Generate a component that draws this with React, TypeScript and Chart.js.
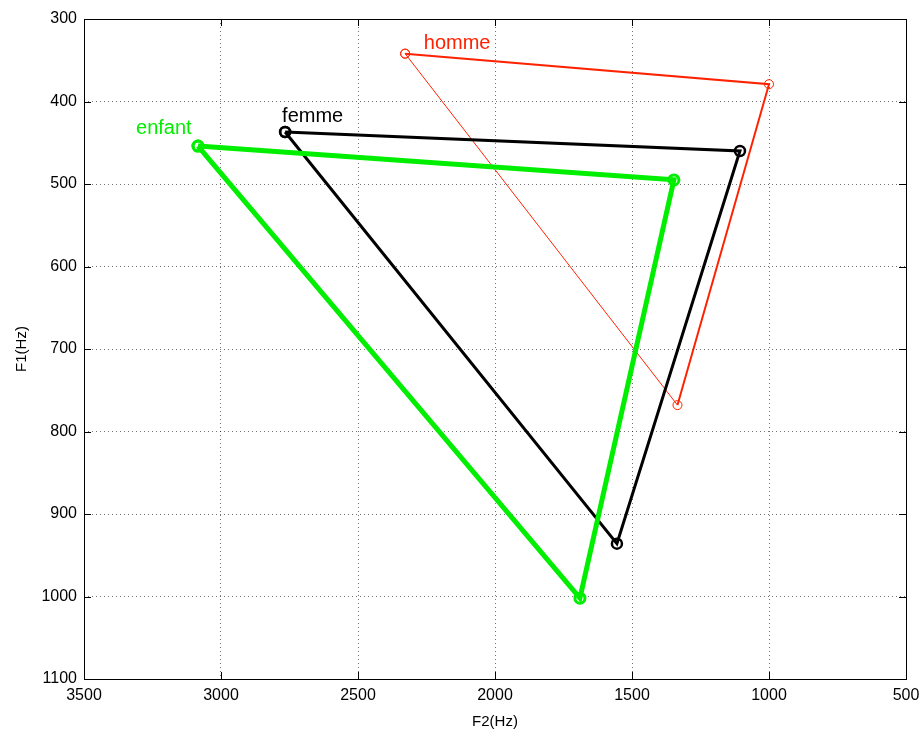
import React, { useEffect, useRef } from "react";
import { Chart, registerables } from "chart.js";

Chart.register(...registerables);

// F2 (Hz), F1 (Hz) vertices of each vowel triangle (closed)
const hommeF2 = [2328, 1000, 1334, 2328];
const hommeF1 = [342, 379, 768, 342];
const femmeF2 = [2766, 1106, 1555, 2766];
const femmeF1 = [437, 460, 936, 437];
const enfantF2 = [3084, 1347, 1690, 3084];
const enfantF1 = [454, 495, 1002, 454];

// label anchors (F2, F1)
const labelTexts = ["homme", "femme", "enfant"];
const labelF2 = [2260, 2777, 3310];
const labelF1 = [336, 425, 439];
const labelColors = ["#ff2200", "#000000", "#00ee00"];

const xTicks = [3500, 3000, 2500, 2000, 1500, 1000, 500];
const yTicks = [300, 400, 500, 600, 700, 800, 900, 1000, 1100];

const toPts = (xs: number[], ys: number[]) => xs.map((x, i) => ({ x, y: ys[i] }));

const boxPlugin = {
  id: "boxPlugin",
  afterDraw(chart: any) {
    const { ctx, chartArea: a, scales } = chart;
    const xs = scales.x;
    const ys = scales.y;
    ctx.save();
    ctx.strokeStyle = "#000";
    ctx.lineWidth = 1;
    ctx.strokeRect(Math.round(a.left) + 0.5, Math.round(a.top) + 0.5, Math.round(a.right - a.left), Math.round(a.bottom - a.top));
    const tl = 7;
    ctx.beginPath();
    xTicks.forEach((t) => {
      const px = Math.round(xs.getPixelForValue(t)) + 0.5;
      ctx.moveTo(px, a.bottom);
      ctx.lineTo(px, a.bottom - tl);
      ctx.moveTo(px, a.top);
      ctx.lineTo(px, a.top + tl);
    });
    yTicks.forEach((t) => {
      const py = Math.round(ys.getPixelForValue(t)) + 0.5;
      ctx.moveTo(a.left, py);
      ctx.lineTo(a.left + tl, py);
      ctx.moveTo(a.right, py);
      ctx.lineTo(a.right - tl, py);
    });
    ctx.stroke();
    ctx.font = "20px 'Liberation Sans', Arial, sans-serif";
    ctx.textAlign = "left";
    ctx.textBaseline = "alphabetic";
    labelTexts.forEach((t, i) => {
      ctx.fillStyle = labelColors[i];
      ctx.fillText(t, xs.getPixelForValue(labelF2[i]), ys.getPixelForValue(labelF1[i]));
    });
    ctx.restore();
  },
};

export default function App() {
  const ref = useRef<HTMLCanvasElement>(null);
  useEffect(() => {
    if (!ref.current) return;
    const font = { family: "'Liberation Sans', Arial, sans-serif", size: 16 };
    const chart = new Chart(ref.current, {
      type: "line",
      data: {
        datasets: [
          {
            label: "enfant",
            data: toPts(enfantF2, enfantF1),
            borderColor: "#00ee00",
            borderWidth: 5,
            pointRadius: 5,
            pointBorderWidth: 3,
            pointBorderColor: "#00ee00",
            pointBackgroundColor: "rgba(0,0,0,0)",
            showLine: true,
            tension: 0,
          },
          {
            label: "femme",
            data: toPts(femmeF2, femmeF1),
            borderColor: "#000000",
            borderWidth: 3,
            pointRadius: 5,
            pointBorderWidth: 2.5,
            pointBorderColor: "#000000",
            pointBackgroundColor: "rgba(0,0,0,0)",
            showLine: true,
            tension: 0,
          },
          {
            label: "homme",
            data: toPts(hommeF2, hommeF1),
            borderColor: "#ff2200",
            borderWidth: 2,
            segment: {
              borderWidth: (c: any) => (c.p0DataIndex === 2 ? 1 : 2),
            },
            pointRadius: 4.5,
            pointBorderWidth: 1,
            pointBorderColor: "#ff2200",
            pointBackgroundColor: "rgba(0,0,0,0)",
            showLine: true,
            tension: 0,
          },
        ],
      },
      options: {
        animation: false,
        responsive: false,
        maintainAspectRatio: false,
        layout: { padding: { left: 0, top: 19, right: 15, bottom: 0 } },
        plugins: { legend: { display: false }, tooltip: { enabled: false } },
        scales: {
          x: {
            type: "linear",
            reverse: true,
            min: 500,
            max: 3500,
            afterFit: (s: any) => {
              s.height = 52;
              s.paddingLeft = 0;
              s.paddingRight = 0;
            },
            afterBuildTicks: (s: any) => {
              s.ticks = xTicks.map((v) => ({ value: v }));
            },
            ticks: { color: "#000", font, padding: 7, maxRotation: 0, autoSkip: false, callback: (v: any) => String(v) },
            grid: { color: "rgba(0,0,0,0.55)", drawTicks: false, lineWidth: 1 },
            border: { display: false, dash: [1, 3] },
            title: { display: true, text: "F2(Hz)", color: "#000", font: { ...font, size: 15 }, padding: { top: 4, bottom: 0 } },
          },
          y: {
            type: "linear",
            reverse: true,
            min: 300,
            max: 1100,
            afterFit: (s: any) => {
              s.width = 84;
              s.paddingTop = 0;
              s.paddingBottom = 0;
            },
            afterBuildTicks: (s: any) => {
              s.ticks = yTicks.map((v) => ({ value: v }));
            },
            ticks: { color: "#000", font, padding: 7, autoSkip: false, callback: (v: any) => String(v) },
            grid: { color: "rgba(0,0,0,0.55)", drawTicks: false, lineWidth: 1 },
            border: { display: false, dash: [1, 3] },
            title: { display: true, text: "F1(Hz)", color: "#000", font: { ...font, size: 15 }, padding: { top: 13, bottom: 0 } },
          },
        },
      },
      plugins: [boxPlugin],
    } as any);
    return () => chart.destroy();
  }, []);
  return (
    <div style={{ position: "absolute", left: 0, top: 0, width: 921, height: 731, background: "#fff" }}>
      <canvas ref={ref} width={921} height={731} />
    </div>
  );
}
